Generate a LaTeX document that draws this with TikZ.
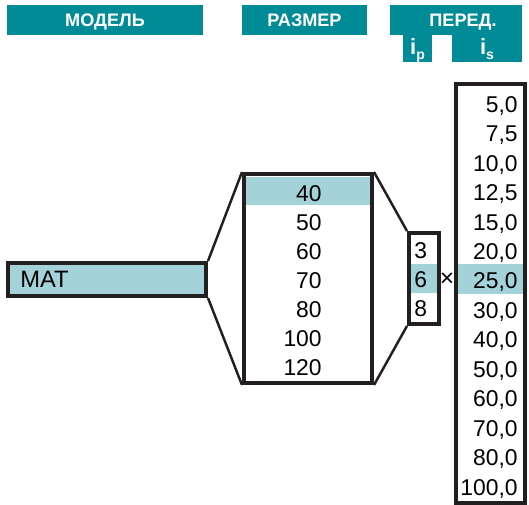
\documentclass[tikz,border=0pt]{standalone}
\usepackage{fontspec}
\setmainfont{Liberation Sans}
\definecolor{teal}{RGB}{0,139,150}
\definecolor{hl}{RGB}{163,211,217}
\definecolor{ink}{RGB}{35,31,32}
\newcommand{\headfont}{\fontsize{10.3}{12}\selectfont\bfseries}
\newcommand{\numfont}{\fontsize{13}{15}\selectfont}
\newcommand{\subi}[1]{\fontsize{12.5}{14}\selectfont\bfseries i\raisebox{-2.5pt}{\fontsize{8}{9}\selectfont #1}}
\tikzset{
  head/.style={fill=teal,text=white,font=\headfont,inner sep=0pt,minimum height=0.6cm,
    text height=7.4pt,text depth=0pt},
  frame/.style={draw=ink,line width=2.3pt,inner sep=0pt},
  pick/.style={fill=hl,inner sep=0pt},
  num/.style={font=\numfont,inner sep=0pt,text height=9.4pt,text depth=0pt,anchor=east},
  funnel/.style={draw=ink,line width=1.4pt}
}
\begin{document}
\begin{tikzpicture}[x=0.02cm,y=-0.02cm]
\useasboundingbox (0,0) rectangle (529,505);
% headers
\node[head,minimum width=3.92cm] (hmodel) at (105,20) {МОДЕЛЬ};
\node[head,minimum width=2.5cm] (hsize) at (304.5,20) {РАЗМЕР};
\node[head,minimum width=2.64cm] (hratio) at (456,20) {\hspace*{0.28cm}ПЕРЕД.};
\node[head,minimum width=0.58cm,minimum height=0.54cm,text height=9pt,text depth=2pt] (hip) at (417.5,48.5) {\subi{p}};
\node[head,minimum width=1.4cm,minimum height=0.54cm,text height=9pt,text depth=2pt] (his) at (487,48.5) {\subi{s}};
% highlighted rows
\node[pick,minimum width=2.48cm,minimum height=0.56cm] (pick40) at (308,191) {};
\node[pick,minimum width=0.52cm,minimum height=0.58cm] (pick6) at (424,278.5) {};
\node[pick,minimum width=1.3cm,minimum height=0.6cm] (pick25) at (490.5,279) {};
% boxes
\node[frame,fill=hl,minimum width=3.96cm,minimum height=0.66cm] (mat) at (107,279.5) {};
\node[frame,minimum width=2.56cm,minimum height=4.18cm] (size) at (308,278.5) {};
\node[frame,minimum width=0.6cm,minimum height=1.82cm] (ip) at (424,278.5) {};
\node[frame,minimum width=1.38cm,minimum height=8.38cm] (is) at (490.5,293.5) {};
\node[num,anchor=west,font=\fontsize{13.5}{15}\selectfont] (matname) at (20,279.5) {MAT};
% sizes
\node[num] (s40) at (322,193) {40};
\node[num] (s50) at (322,222.1) {50};
\node[num] (s60) at (322,251.2) {60};
\node[num] (s70) at (322,280.4) {70};
\node[num] (s80) at (322,309.5) {80};
\node[num] (s100) at (322,338.6) {100};
\node[num] (s120) at (322,367.7) {120};
% ip
\node[num] (p3) at (427.5,250.5) {3};
\node[num] (p6) at (427.5,279.5) {6};
\node[num] (p8) at (427.5,308.5) {8};
\node[font=\fontsize{14}{15}\selectfont,inner sep=0pt] (times) at (447,280) {×};
% is
\node[num] (r1) at (518,104) {5,0};
\node[num] (r2) at (518,133.5) {7,5};
\node[num] (r3) at (518,162.9) {10,0};
\node[num] (r4) at (518,192.4) {12,5};
\node[num] (r5) at (518,221.8) {15,0};
\node[num] (r6) at (518,251.3) {20,0};
\node[num] (r7) at (518,280.7) {25,0};
\node[num] (r8) at (518,310.2) {30,0};
\node[num] (r9) at (518,339.6) {40,0};
\node[num] (r10) at (518,369.1) {50,0};
\node[num] (r11) at (518,398.5) {60,0};
\node[num] (r12) at (518,428) {70,0};
\node[num] (r13) at (518,457.4) {80,0};
\node[num] (r14) at (518,486.9) {100,0};
\path[funnel]
  (mat.north east) edge (size.north west)
  (mat.south east) edge (size.south west)
  (size.north east) edge (ip.north west)
  (size.south east) edge (ip.south west)
;
\end{tikzpicture}
\end{document}
